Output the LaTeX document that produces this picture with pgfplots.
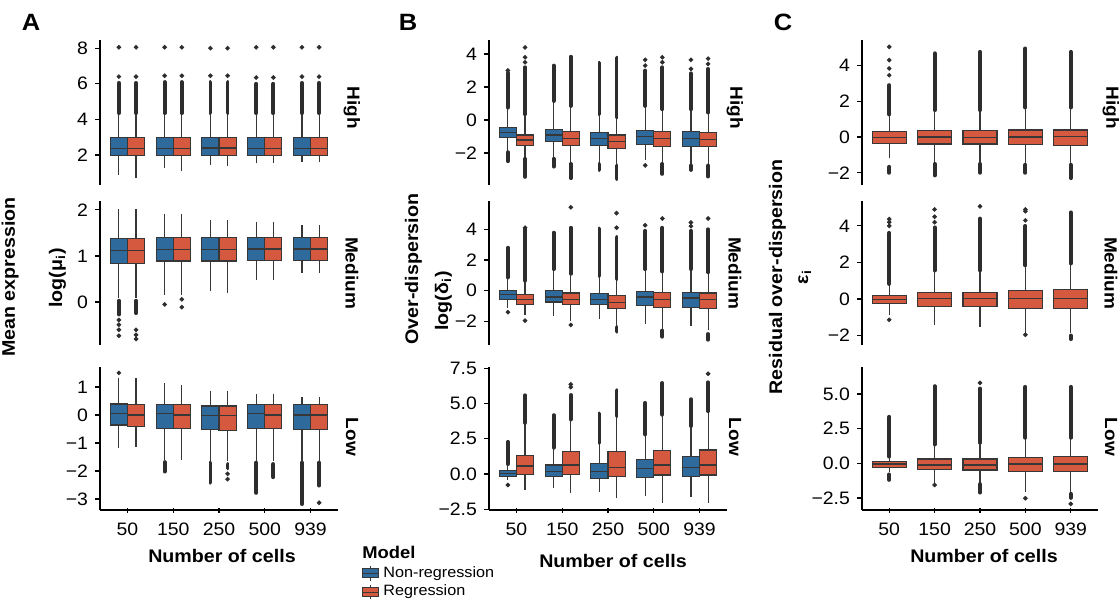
\documentclass[border=0pt]{standalone}
\usepackage{pgfplots}
\pgfplotsset{compat=1.18}
\usepgfplotslibrary{statistics}
\usepackage{fontspec}
\setmainfont{Liberation Sans}[FakeStretch=1.08]

\definecolor{nrblue}{RGB}{46,107,156}
\definecolor{rgred}{RGB}{213,89,62}
\definecolor{boxline}{RGB}{55,55,55}
\definecolor{ptcol}{RGB}{45,45,45}

\newcommand{\ticks}{\fontsize{9}{10.5}\selectfont}
\newcommand{\lab}{\fontsize{9.1}{10.5}\selectfont\bfseries}
\newcommand{\strip}{\fontsize{8.8}{10.5}\selectfont\bfseries}

% box: position, lower whisker, q1, median, q3, upper whisker, colour, width
\newcommand{\bx}[8]{\addplot[boxplot prepared={draw direction=y, draw position=#1, lower whisker=#2,
  lower quartile=#3, median=#4, upper quartile=#5, upper whisker=#6,
  box extend=#8, whisker extend=0}, fill=#7, draw=boxline, line width=0.55pt] coordinates {};}
% dense run of outliers
\newcommand{\col}[3]{\addplot[draw=ptcol, line width=1.9pt, line cap=round] coordinates {(#1,#2) (#1,#3)};}
% single outliers
\newcommand{\pts}[1]{\addplot[only marks, mark=*, mark size=0.95pt, ptcol] coordinates {#1};}

\pgfplotsset{
  panel/.style={scale only axis, width=119pt, anchor=north west,
    xmin=0.4, xmax=5.6, axis y line=left,
    axis line style={-, line width=1.1pt, black},
    tick align=outside, major tick length=2.5pt,
    tick style={line width=0.6pt, black},
    ticklabel style={font=\ticks},
    xtick={1,2,3,4,5}, xticklabels={50,150,250,500,939}, clip=false},
  upper/.style={axis x line=none},
  bottom/.style={axis x line=bottom, xticklabel style={yshift=-1.5pt},
    every outer x axis line/.append style={-}, every outer y axis line/.append style={-}},
}

\begin{document}
\begin{tikzpicture}
\useasboundingbox (0,0) rectangle (560pt,-299.5pt);

%%%%%%%%%%%%%%%% A
\begin{axis}[panel, upper, at={(50pt,-20pt)}, height=72.5pt, ymin=0.31, ymax=8.46,
  ytick={2,4,6,8}, yticklabels={2,4,6,8}]
\bx{0.8125}{0.88}{1.96}{2.38}{3.0}{4.3}{nrblue}{0.375}
\bx{1.1875}{0.70}{1.96}{2.38}{3.0}{4.3}{rgred}{0.375}
\bx{1.8125}{1.27}{1.96}{2.38}{3.0}{4.3}{nrblue}{0.375}
\bx{2.1875}{1.12}{1.96}{2.38}{3.0}{4.3}{rgred}{0.375}
\bx{2.8125}{1.44}{1.96}{2.39}{3.0}{4.3}{nrblue}{0.375}
\bx{3.1875}{1.38}{1.96}{2.39}{3.0}{4.3}{rgred}{0.375}
\bx{3.8125}{1.53}{1.96}{2.38}{3.0}{4.3}{nrblue}{0.375}
\bx{4.1875}{1.53}{1.96}{2.38}{3.0}{4.3}{rgred}{0.375}
\bx{4.8125}{1.62}{1.96}{2.38}{3.0}{4.3}{nrblue}{0.375}
\bx{5.1875}{1.62}{1.96}{2.38}{3.0}{4.3}{rgred}{0.375}
\col{0.8125}{4.35}{6.05}\col{1.1875}{4.35}{6.05}
\col{1.8125}{4.35}{6.1}\col{2.1875}{4.35}{6.1}
\col{2.8125}{4.35}{6.1}\col{3.1875}{4.35}{6.1}
\col{3.8125}{4.35}{6.0}\col{4.1875}{4.35}{6.0}
\col{4.8125}{4.35}{6.05}\col{5.1875}{4.35}{6.05}
\pts{(0.8125,6.4) (1.1875,6.4) (1.8125,6.45) (2.1875,6.45) (2.8125,6.45) (3.1875,6.45)
 (3.8125,6.35) (4.1875,6.35) (4.8125,6.4) (5.1875,6.4)
 (0.8125,8.05) (1.1875,8.05) (1.8125,8.05) (2.1875,8.05) (2.8125,8.0) (3.1875,8.0)
 (3.8125,8.05) (4.1875,8.05) (4.8125,8.05) (5.1875,8.05)}
\end{axis}

\begin{axis}[panel, upper, at={(50pt,-100.5pt)}, height=72pt, ymin=-0.93, ymax=2.19,
  ytick={0,1,2}, yticklabels={0,1,2}]
\bx{0.8125}{0.08}{0.845}{1.12}{1.38}{2.02}{nrblue}{0.375}
\bx{1.1875}{0.08}{0.845}{1.12}{1.38}{2.02}{rgred}{0.375}
\bx{1.8125}{0.15}{0.89}{1.14}{1.39}{1.91}{nrblue}{0.375}
\bx{2.1875}{0.15}{0.89}{1.14}{1.39}{1.91}{rgred}{0.375}
\bx{2.8125}{0.24}{0.89}{1.13}{1.39}{1.78}{nrblue}{0.375}
\bx{3.1875}{0.19}{0.89}{1.13}{1.39}{1.78}{rgred}{0.375}
\bx{3.8125}{0.47}{0.90}{1.15}{1.40}{1.74}{nrblue}{0.375}
\bx{4.1875}{0.47}{0.90}{1.15}{1.40}{1.74}{rgred}{0.375}
\bx{4.8125}{0.63}{0.90}{1.15}{1.39}{1.66}{nrblue}{0.375}
\bx{5.1875}{0.63}{0.90}{1.15}{1.39}{1.66}{rgred}{0.375}
\col{0.8125}{0.03}{-0.27}\col{1.1875}{0.03}{-0.24}
\pts{(0.8125,-0.39) (0.8125,-0.49) (0.8125,-0.6) (0.8125,-0.73)
 (1.1875,-0.6) (1.1875,-0.71) (1.1875,-0.8)
 (1.8125,-0.05) (2.1875,0.06) (2.1875,-0.11)}
\end{axis}

\begin{axis}[panel, bottom, at={(50pt,-183.5pt)}, height=71.5pt, ymin=-3.39, ymax=1.71,
  ytick={-3,-2,-1,0,1}, yticklabels={−3,−2,−1,0,1}]
\bx{0.8125}{-1.19}{-0.36}{0.06}{0.39}{1.32}{nrblue}{0.375}
\bx{1.1875}{-1.13}{-0.42}{0.00}{0.36}{1.30}{rgred}{0.375}
\bx{1.8125}{-1.60}{-0.48}{0.04}{0.36}{1.13}{nrblue}{0.375}
\bx{2.1875}{-1.60}{-0.48}{0.00}{0.36}{1.07}{rgred}{0.375}
\bx{2.8125}{-1.64}{-0.51}{-0.02}{0.32}{0.87}{nrblue}{0.375}
\bx{3.1875}{-1.66}{-0.55}{-0.02}{0.32}{0.87}{rgred}{0.375}
\bx{3.8125}{-1.65}{-0.48}{0.04}{0.36}{0.75}{nrblue}{0.375}
\bx{4.1875}{-1.65}{-0.48}{0.00}{0.36}{0.75}{rgred}{0.375}
\bx{4.8125}{-1.65}{-0.51}{0.00}{0.36}{0.64}{nrblue}{0.375}
\bx{5.1875}{-1.65}{-0.51}{0.00}{0.36}{0.64}{rgred}{0.375}
\col{1.8125}{-1.68}{-2.02}
\col{2.8125}{-1.7}{-2.42}\col{3.1875}{-1.75}{-1.9}
\col{3.8125}{-1.7}{-2.78}\col{4.1875}{-1.75}{-2.22}
\col{4.8125}{-1.7}{-3.18}\col{5.1875}{-1.7}{-2.52}
\pts{(0.8125,1.5) (3.1875,-2.1) (3.1875,-2.29) (5.1875,-3.13)}
\end{axis}

%%%%%%%%%%%%%%%% B
\begin{axis}[panel, upper, at={(244.5pt,-20pt)}, height=72.5pt, ymin=-3.94, ymax=4.85,
  ytick={-2,0,2,4}, yticklabels={−2,0,2,4}]
\bx{0.8125}{-1.92}{-1.07}{-0.77}{-0.47}{0.72}{nrblue}{0.375}
\bx{1.1875}{-2.32}{-1.52}{-1.21}{-0.91}{0.30}{rgred}{0.375}
\bx{1.8125}{-2.30}{-1.31}{-0.91}{-0.55}{1.10}{nrblue}{0.375}
\bx{2.1875}{-2.63}{-1.52}{-1.11}{-0.71}{0.80}{rgred}{0.375}
\bx{2.8125}{-2.63}{-1.52}{-1.11}{-0.77}{0.30}{nrblue}{0.375}
\bx{3.1875}{-2.73}{-1.72}{-1.31}{-0.91}{0.10}{rgred}{0.375}
\bx{3.8125}{-2.44}{-1.47}{-1.01}{-0.61}{0.80}{nrblue}{0.375}
\bx{4.1875}{-2.63}{-1.62}{-1.11}{-0.71}{0.60}{rgred}{0.375}
\bx{4.8125}{-2.73}{-1.58}{-1.11}{-0.71}{0.60}{nrblue}{0.375}
\bx{5.1875}{-2.73}{-1.62}{-1.17}{-0.77}{0.40}{rgred}{0.375}
\col{0.8125}{0.75}{2.85}\col{0.8125}{-1.95}{-2.5}
\col{1.1875}{0.35}{3.2}\col{1.1875}{-2.35}{-3.45}
\col{1.8125}{1.15}{3.3}\col{1.8125}{-2.35}{-2.83}
\col{2.1875}{0.85}{3.84}\col{2.1875}{-2.66}{-3.53}
\col{2.8125}{0.35}{3.47}\col{2.8125}{-2.66}{-3.03}
\col{3.1875}{0.15}{3.78}\col{3.1875}{-2.76}{-3.58}
\col{3.8125}{0.85}{3.0}
\col{4.1875}{0.65}{3.2}\col{4.1875}{-2.66}{-3.27}
\col{4.8125}{0.65}{2.83}\col{4.8125}{-2.76}{-3.03}
\col{5.1875}{0.45}{3.1}\col{5.1875}{-2.76}{-3.43}
\pts{(0.8125,3.0) (1.1875,3.5) (1.1875,3.8) (1.1875,4.4) (3.8125,3.3) (3.8125,3.65) (3.8125,-2.75)
 (4.1875,3.5) (4.1875,3.8) (4.8125,3.1) (4.8125,3.65) (5.1875,3.4) (5.1875,3.72)}
\end{axis}

\begin{axis}[panel, upper, at={(244.5pt,-100.5pt)}, height=72pt, ymin=-3.54, ymax=5.84,
  ytick={-2,0,2,4}, yticklabels={−2,0,2,4}]
\bx{0.8125}{-1.14}{-0.55}{-0.26}{0.02}{0.83}{nrblue}{0.375}
\bx{1.1875}{-1.58}{-0.92}{-0.59}{-0.26}{0.61}{rgred}{0.375}
\bx{1.8125}{-1.65}{-0.74}{-0.41}{0.02}{1.38}{nrblue}{0.375}
\bx{2.1875}{-2.00}{-0.92}{-0.55}{-0.15}{1.05}{rgred}{0.375}
\bx{2.8125}{-1.86}{-0.92}{-0.55}{-0.20}{0.90}{nrblue}{0.375}
\bx{3.1875}{-2.34}{-1.14}{-0.77}{-0.33}{0.72}{rgred}{0.375}
\bx{3.8125}{-2.17}{-0.96}{-0.41}{-0.04}{1.38}{nrblue}{0.375}
\bx{4.1875}{-2.56}{-1.07}{-0.59}{-0.11}{1.20}{rgred}{0.375}
\bx{4.8125}{-2.30}{-1.07}{-0.48}{-0.11}{1.38}{nrblue}{0.375}
\bx{5.1875}{-2.56}{-1.18}{-0.55}{-0.15}{1.15}{rgred}{0.375}
\col{0.8125}{0.86}{2.8}
\col{1.1875}{0.65}{4.0}
\col{1.8125}{1.4}{3.78}
\col{2.1875}{1.1}{4.1}
\col{2.8125}{0.95}{4.05}
\col{3.1875}{0.75}{3.5}\col{3.1875}{-2.37}{-2.67}
\col{3.8125}{1.4}{3.9}
\col{4.1875}{1.25}{4.1}\col{4.1875}{-2.6}{-3.0}
\col{4.8125}{1.4}{3.9}
\col{5.1875}{1.2}{4.0}\col{5.1875}{-2.82}{-3.2}
\pts{(0.8125,-1.4) (1.1875,4.1) (1.1875,-1.95) (2.1875,5.43) (2.1875,-2.23)
 (3.1875,4.1) (3.1875,5.05) (3.8125,4.26) (4.1875,4.7) (4.8125,4.2) (4.8125,4.44) (5.1875,4.7)}
\end{axis}

\begin{axis}[panel, bottom, at={(244.5pt,-183.5pt)}, height=71.5pt, ymin=-2.55, ymax=7.58,
  ytick={-2.5,0,2.5,5,7.5}, yticklabels={−2.5,0.0,2.5,5.0,7.5}]
\bx{0.8125}{-0.42}{-0.19}{0.05}{0.28}{0.64}{nrblue}{0.375}
\bx{1.1875}{-1.13}{-0.02}{0.57}{1.34}{3.58}{rgred}{0.375}
\bx{1.8125}{-1.01}{-0.19}{0.16}{0.64}{1.82}{nrblue}{0.375}
\bx{2.1875}{-1.36}{-0.02}{0.64}{1.58}{3.82}{rgred}{0.375}
\bx{2.8125}{-1.30}{-0.30}{0.16}{0.76}{2.17}{nrblue}{0.375}
\bx{3.1875}{-1.72}{-0.19}{0.47}{1.58}{4.05}{rgred}{0.375}
\bx{3.8125}{-1.55}{-0.23}{0.40}{1.04}{2.76}{nrblue}{0.375}
\bx{4.1875}{-2.07}{-0.07}{0.64}{1.65}{4.17}{rgred}{0.375}
\bx{4.8125}{-1.60}{-0.19}{0.47}{1.23}{3.35}{nrblue}{0.375}
\bx{5.1875}{-2.07}{-0.07}{0.64}{1.70}{4.40}{rgred}{0.375}
\col{0.8125}{0.7}{2.28}
\col{1.1875}{3.62}{5.58}
\col{1.8125}{1.86}{4.17}
\col{2.1875}{3.86}{5.6}
\col{2.8125}{2.2}{4.29}
\col{3.1875}{4.1}{5.94}
\col{3.8125}{2.8}{5.04}
\col{4.1875}{4.2}{6.45}
\col{4.8125}{3.4}{5.3}
\col{5.1875}{4.45}{6.5}
\pts{(0.8125,-0.78) (2.1875,6.15) (2.1875,6.35) (5.1875,7.1)}
\end{axis}

%%%%%%%%%%%%%%%% C
\begin{axis}[panel, upper, width=118pt, at={(431pt,-20pt)}, height=72.5pt, ymin=-2.68, ymax=5.42,
  ytick={-2,0,2,4}, yticklabels={−2,0,2,4}]
\bx{1}{-1.19}{-0.35}{-0.02}{0.30}{1.23}{rgred}{0.75}
\bx{2}{-1.45}{-0.39}{0.00}{0.34}{1.45}{rgred}{0.75}
\bx{3}{-1.45}{-0.39}{-0.02}{0.34}{1.45}{rgred}{0.75}
\bx{4}{-1.50}{-0.41}{0.00}{0.39}{1.60}{rgred}{0.75}
\bx{5}{-1.50}{-0.45}{0.02}{0.39}{1.60}{rgred}{0.75}
\col{1}{1.26}{2.9}\col{1}{-1.66}{-2.0}
\col{2}{1.5}{4.68}\col{2}{-1.5}{-2.15}
\col{3}{1.5}{4.76}\col{3}{-1.5}{-2.0}
\col{4}{1.65}{4.95}\col{4}{-1.55}{-2.0}
\col{5}{1.65}{4.76}\col{5}{-1.55}{-2.3}
\pts{(1,3.45) (1,3.83) (1,4.3) (1,5.04)}
\end{axis}

\begin{axis}[panel, upper, width=118pt, at={(431pt,-100.5pt)}, height=72pt, ymin=-2.52, ymax=5.36,
  ytick={-2,0,2,4}, yticklabels={−2,0,2,4}]
\bx{1}{-0.87}{-0.26}{-0.04}{0.18}{0.78}{rgred}{0.75}
\bx{2}{-1.42}{-0.41}{0.00}{0.37}{1.52}{rgred}{0.75}
\bx{3}{-1.52}{-0.41}{0.00}{0.37}{1.52}{rgred}{0.75}
\bx{4}{-1.86}{-0.50}{0.00}{0.47}{1.80}{rgred}{0.75}
\bx{5}{-1.86}{-0.53}{0.04}{0.52}{1.90}{rgred}{0.75}
\col{1}{0.82}{3.62}
\col{2}{1.56}{3.92}
\col{3}{1.56}{4.4}
\col{4}{1.84}{4.0}
\col{5}{1.94}{4.74}\col{5}{-2.0}{-2.2}
\pts{(1,4.0) (1,4.2) (1,4.37) (1,-1.14) (2,4.2) (2,4.5) (2,4.9) (3,5.07)
 (4,4.3) (4,4.8) (4,4.9) (4,-1.96)}
\end{axis}

\begin{axis}[panel, bottom, width=118pt, at={(431pt,-183.5pt)}, height=71.5pt, ymin=-3.37, ymax=6.95,
  ytick={-2.5,0,2.5,5}, yticklabels={−2.5,0.0,2.5,5.0}]
\bx{1}{-0.60}{-0.29}{-0.05}{0.12}{0.43}{rgred}{0.75}
\bx{2}{-1.56}{-0.43}{-0.12}{0.31}{1.32}{rgred}{0.75}
\bx{3}{-1.44}{-0.48}{-0.12}{0.31}{1.44}{rgred}{0.75}
\bx{4}{-2.05}{-0.60}{-0.05}{0.43}{1.80}{rgred}{0.75}
\bx{5}{-2.16}{-0.60}{-0.05}{0.48}{1.80}{rgred}{0.75}
\col{1}{0.48}{3.36}\col{1}{-0.8}{-1.2}
\col{2}{1.36}{5.57}
\col{3}{1.48}{5.4}\col{3}{-1.5}{-2.12}
\col{4}{1.84}{5.52}
\col{5}{1.84}{5.52}\col{5}{-2.2}{-2.5}
\pts{(2,-1.56) (3,5.81) (4,-2.52) (5,-2.93)}
\end{axis}

%%%%%%%%%%%%%%%% legend
\begin{axis}[hide axis, scale only axis, width=10pt, height=10pt, anchor=north west,
  at={(181pt,-281pt)}, xmin=0, xmax=1, ymin=0, ymax=1,
  legend style={at={(0,1)}, anchor=north west, draw=none, fill=none, inner sep=0pt,
    row sep=-1.6pt, font=\fontsize{7.5}{8.5}\selectfont, cells={anchor=west}},
  legend image code/.code={
    \draw[#1, line width=0.5pt] (0pt,-2.3pt) rectangle (8pt,2.3pt);
    \draw[boxline, line width=0.5pt] (0pt,0pt) -- (8pt,0pt)
      (4pt,2.3pt) -- (4pt,3.6pt) (4pt,-2.3pt) -- (4pt,-3.6pt);}]
\addlegendimage{fill=nrblue, draw=boxline}\addlegendentry{Non-regression}
\addlegendimage{fill=rgred, draw=boxline}\addlegendentry{Regression}
\end{axis}
\node[anchor=west, font=\fontsize{8.5}{9}\selectfont\bfseries, inner sep=0pt] at (181pt,-276pt) {Model};

%%%%%%%%%%%%%%%% texts
\foreach \x/\l in {15.5/A, 204/B, 391.5/C}
  \node[font=\fontsize{11.8}{12}\selectfont\bfseries] at (\x pt,-11pt) {\l};
\foreach \x in {176, 367.5, 555.5} {
  \node[rotate=-90, font=\strip] at (\x pt,-54pt) {High};
  \node[rotate=-90, font=\strip] at (\x pt,-136.5pt) {Medium};
  \node[rotate=-90, font=\strip] at (\x pt,-218.5pt) {Low};
}
\node[font=\lab] at (111pt,-278pt) {Number of cells};
\node[font=\lab] at (306.5pt,-280.5pt) {Number of cells};
\node[font=\lab] at (492pt,-278pt) {Number of cells};
\node[rotate=90, anchor=base, font=\lab] at (7.5pt,-138.5pt) {Mean expression};
\node[rotate=90, anchor=base, font=\lab] at (31pt,-139pt) {log(μ\textsubscript{i})};
\node[rotate=90, anchor=base, font=\lab] at (209pt,-134.5pt) {Over-dispersion};
\node[rotate=90, anchor=base, font=\lab] at (224pt,-150.5pt) {log(δ\textsubscript{i})};
\node[rotate=90, anchor=base, font=\lab] at (391pt,-138.5pt) {Residual over-dispersion};
\node[rotate=90, anchor=base, font=\lab] at (404pt,-138.5pt) {ε\textsubscript{i}};
\end{tikzpicture}
\end{document}
